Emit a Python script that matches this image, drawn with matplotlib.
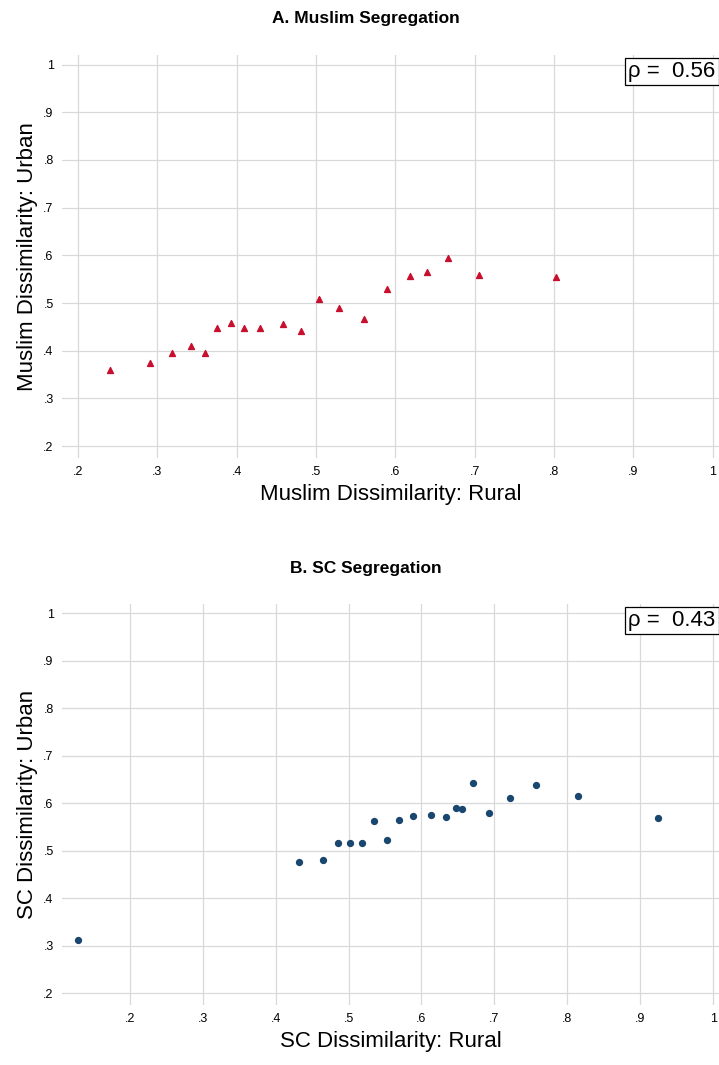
import matplotlib.pyplot as plt

plt.rcParams['font.family'] = ['Liberation Sans', 'DejaVu Sans']

# Panel A: Muslim segregation
mus_rural = [.240, .291, .318, .342, .360, .375, .393, .410, .430, .458,
             .481, .504, .529, .560, .590, .619, .640, .666, .705, .802]
mus_urban = [.360, .375, .396, .410, .396, .448, .459, .448, .448, .455,
             .442, .509, .490, .467, .530, .556, .566, .594, .558, .554]

# Panel B: SC segregation
sc_rural = [.129, .432, .465, .486, .502, .519, .535, .553, .569, .588,
            .613, .633, .647, .656, .670, .693, .722, .757, .814, .924]
sc_urban = [.311, .476, .480, .516, .516, .516, .562, .522, .564, .573,
            .575, .571, .590, .588, .643, .579, .611, .638, .615, .569]

ticks = [.2, .3, .4, .5, .6, .7, .8, .9, 1]
tick_labels = [".2", ".3", ".4", ".5", ".6", ".7", ".8", ".9", "1"]

W, H = 719, 1065
fig = plt.figure(figsize=(W / 100, H / 100), dpi=100)


def panel(rect, x, y, marker, color, title, title_y, xlabel, ylabel, rho, xlim):
    ax = fig.add_axes(rect)
    ax.scatter(x, y, marker=marker, s=18, color=color, zorder=3)
    ax.set_xlim(*xlim)
    ax.set_ylim(0.175, 1.02)
    ax.set_xticks(ticks)
    ax.set_xticklabels(tick_labels)
    ax.set_yticks(ticks)
    ax.set_yticklabels(tick_labels)
    ax.grid(True, color="#d9d9d9", linewidth=0.9)
    ax.set_axisbelow(True)
    for s in ax.spines.values():
        s.set_visible(False)
    ax.tick_params(length=0, labelsize=9, pad=6)
    ax.set_xlabel(xlabel, fontsize=16, labelpad=4)
    ax.set_ylabel(ylabel, fontsize=16, labelpad=4)
    fig.text(366 / W, 1 - title_y / H, title, fontsize=12.5, fontweight="bold",
             ha="center", va="center")
    ax.text(0.995, 0.985, "ρ =  %.2f" % rho, transform=ax.transAxes,
            ha="right", va="top", fontsize=16,
            bbox=dict(boxstyle="square,pad=0.15", fc="white", ec="black", lw=0.9))
    return ax


def rect(top, bottom):
    return [62 / W, 1 - bottom / H, (W - 62) / W, (bottom - top) / H]


panel(rect(55, 458), mus_rural, mus_urban, "^", "#c8102e",
      "A. Muslim Segregation", 18, "Muslim Dissimilarity: Rural",
      "Muslim Dissimilarity: Urban", 0.56, (0.18, 1.008))
panel(rect(604, 1005), sc_rural, sc_urban, "o", "#1a476f",
      "B. SC Segregation", 568, "SC Dissimilarity: Rural",
      "SC Dissimilarity: Urban", 0.43, (0.107, 1.008))

fig.savefig("out.png", dpi=100)
